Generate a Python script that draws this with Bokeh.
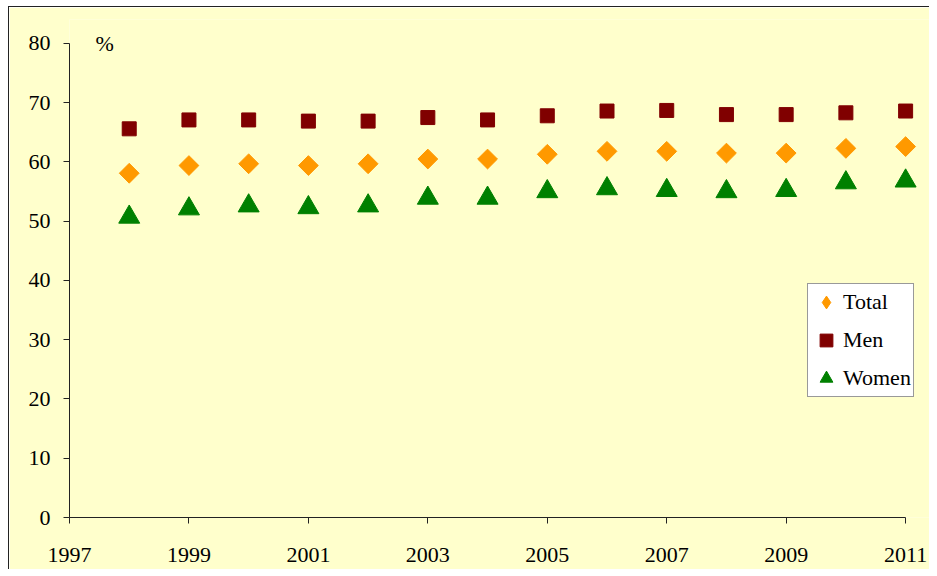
import numpy as np
from bokeh.plotting import figure
from bokeh.models import Legend, LegendItem, Label, FixedTicker, Range1d, ColumnDataSource
from bokeh.embed import file_html
from bokeh.resources import INLINE

years = [1998, 1999, 2000, 2001, 2002, 2003, 2004, 2005, 2006, 2007, 2008, 2009, 2010, 2011]
total = [58.1, 59.4, 59.7, 59.4, 59.7, 60.5, 60.5, 61.3, 61.8, 61.8, 61.5, 61.5, 62.3, 62.6]
men = [65.6, 67.1, 67.1, 66.9, 66.9, 67.5, 67.1, 67.8, 68.6, 68.7, 68.0, 68.0, 68.3, 68.6]
women = [50.7, 52.1, 52.6, 52.3, 52.6, 53.9, 53.9, 55.0, 55.5, 55.2, 55.0, 55.2, 56.5, 56.8]
x_ticks = [1997, 1999, 2001, 2003, 2005, 2007, 2009, 2011]
y_ticks = [0, 10, 20, 30, 40, 50, 60, 70, 80]

BG = "#FFFFCC"
FONT = "Liberation Serif"
C_TOTAL, C_MEN, C_WOMEN = "#FF9900", "#800000", "#008000"

p = figure(width=921, height=563, output_backend="svg", toolbar_location=None,
           x_range=Range1d(1997, 2011.40), y_range=Range1d(0, 84.05),
           min_border_left=60, min_border_right=1, min_border_top=12, min_border_bottom=53)
p.background_fill_color = BG
p.border_fill_color = BG
p.outline_line_color = None
p.grid.visible = False
p.styles = {"margin-left": "8px", "margin-top": "6px",
            "border-left": "1px solid #222222", "border-top": "1px solid #222222"}

for ax in (p.xaxis[0], p.yaxis[0]):
    ax.axis_line_color = "#222222"
    ax.major_tick_line_color = "#222222"
    ax.minor_tick_line_color = None
    ax.major_tick_in = 0
    ax.major_tick_out = 6
    ax.major_label_text_font = FONT
    ax.major_label_text_font_size = "22px"
    ax.major_label_text_color = "black"

p.xaxis[0].ticker = FixedTicker(ticks=x_ticks)
p.yaxis[0].ticker = FixedTicker(ticks=y_ticks)
p.xaxis[0].bounds = (1997, 2011)
p.yaxis[0].bounds = (0, 80)
p.xaxis[0].major_label_standoff = 24
p.yaxis[0].major_label_standoff = 13

src_total = ColumnDataSource(dict(x=years, y=total))

# legend swatch renderer (diamond); drawn first, fully hidden under the rotated squares
lg_total = p.scatter("x", "y", source=src_total, marker="diamond", size=12,
                     fill_color=C_TOTAL, line_color=C_TOTAL)
r_total = p.scatter("x", "y", source=src_total, marker="square", angle=np.pi / 4, size=14,
                    fill_color=C_TOTAL, line_color=C_TOTAL)
r_men = p.scatter(years, men, marker="square", size=14,
                  fill_color=C_MEN, line_color=C_MEN)
r_women = p.scatter(years, women, marker="triangle", size=21,
                    fill_color=C_WOMEN, line_color=C_WOMEN)

p.add_layout(Label(x=1997.435, y=80, text="%", text_font=FONT, text_font_size="22px",
                   text_baseline="middle", text_color="black"))

legend = Legend(items=[LegendItem(label="Total", renderers=[lg_total]),
                       LegendItem(label="Men", renderers=[r_men]),
                       LegendItem(label="Women", renderers=[r_women])],
                location=(738, 120), label_text_font=FONT, label_text_font_size="22px",
                label_text_color="black",
                label_height=30, glyph_height=32, glyph_width=32, spacing=6,
                padding=2, margin=0, label_standoff=1,
                border_line_color="#333333", background_fill_color="white",
                background_fill_alpha=1.0)
p.add_layout(legend)

open("out.html", "w").write(file_html(p, INLINE))
